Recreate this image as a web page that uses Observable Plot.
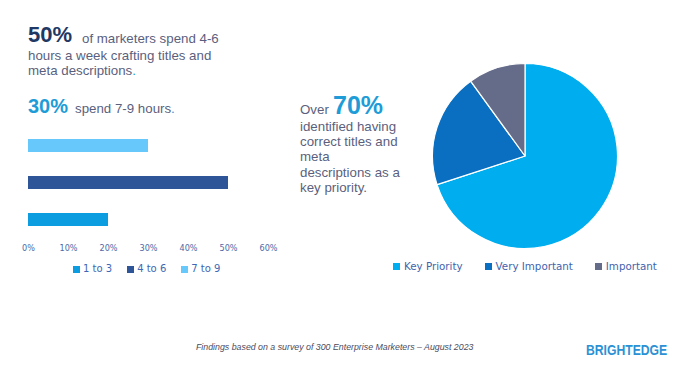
<!DOCTYPE html>
<html>
<head>
<meta charset="utf-8">
<script src="https://cdn.jsdelivr.net/npm/d3@7"></script>
<script src="https://cdn.jsdelivr.net/npm/@observablehq/plot@0.6"></script>
<style>
  html, body { margin: 0; padding: 0; background: #ffffff; }
  #page { position: relative; width: 700px; height: 367px; overflow: hidden; font-family: "Liberation Sans", Arial, sans-serif; }
  .abs { position: absolute; white-space: nowrap; line-height: 1; }
  .body { color: #5b5f7e; font-size: 13.3px; }
  .dot { color: #1e9cd7; }
  div .bl-swatch { margin-right: 15px !important; }
  div .bl-swatch > svg { margin-right: 3px !important; }
  div .pl-swatch { margin-right: 22px !important; }
  div .pl-swatch > svg { margin-right: 4px !important; }
</style>
</head>
<body>
<div id="page">
  <span class="abs" style="left:28px; top:24.4px; font-size:22px; font-weight:bold; color:#1f3864;">50%</span>
  <span class="abs body" style="left:82px; top:31.7px;">of marketers spend 4-6</span>
  <span class="abs body" style="left:28px; top:48.7px;">hours a week crafting titles and</span>
  <span class="abs body" style="left:28px; top:63.7px;">meta descriptions<span class="dot">.</span></span>
  <span class="abs" style="left:28px; top:96.1px; font-size:20px; font-weight:bold; color:#1e9cd7;">30%</span>
  <span class="abs body" style="left:75px; top:101.7px;">spend 7-9 hours<span class="dot">.</span></span>

  <span class="abs body" style="left:300px; top:102.7px;">Over</span>
  <span class="abs" style="left:333px; top:92.8px; font-size:25px; font-weight:bold; color:#1e9cd7;">70%</span>
  <div class="abs body" style="left:300px; top:118.8px; line-height:15.3px; white-space:normal; width:110px;">identified having<br>correct titles and<br>meta<br>descriptions as a<br>key priority.</div>

  <div id="bars" class="abs" style="left:0px; top:130px;"></div>
  <div id="barLegend" class="abs" style="left:73px; top:252.5px;"></div>
  <div id="pie" class="abs" style="left:430px; top:61px;"></div>
  <div id="pieLegend" class="abs" style="left:393px; top:250px;"></div>

  <span class="abs" style="left:196px; top:342.6px; font-size:8.8px; font-style:italic; color:#4a4c5e;">Findings based on a survey of 300 Enterprise Marketers – August 2023</span>
  <span class="abs" style="left:586px; top:343px; font-size:14px; font-weight:bold; color:#2b91d4; transform:scaleX(0.87); transform-origin:left center;">BRIGHTEDGE</span>
</div>
<script>
// ---- Data ----
const hourRanges = ["1 to 3", "4 to 6", "7 to 9"];
const hourShares = [0.20, 0.50, 0.30];
const hourColors = ["#0b9de0", "#2e5597", "#66c8fb"];
const xTicks = [0, 0.1, 0.2, 0.3, 0.4, 0.5, 0.6];

const priorityLabels = ["Key Priority", "Very Important", "Important"];
const priorityShares = [70, 20, 10];
const priorityColors = ["#00aeef", "#0a6fc0", "#646c8a"];

const barData = hourRanges.map((r, i) => ({range: r, value: hourShares[i]}));
const pieData = priorityLabels.map((l, i) => ({label: l, value: priorityShares[i]}));

// ---- Bar chart ----
const bars = Plot.plot({
  width: 300,
  height: 130,
  marginLeft: 28,
  marginRight: 32,
  marginTop: 0,
  marginBottom: 26,
  style: {fontFamily: "'DejaVu Sans Condensed', 'DejaVu Sans', sans-serif", fontSize: "9px", color: "#4a6aa8", background: "transparent"},
  x: {domain: [0, 0.6], axis: null},
  y: {domain: ["7 to 9", "4 to 6", "1 to 3"], paddingInner: 0.66, paddingOuter: 0.2, axis: null},
  color: {domain: hourRanges, range: hourColors},
  marks: [
    Plot.barX(barData, {x: "value", y: "range", fill: "range"}),
    Plot.axisX({ticks: xTicks, tickFormat: d3.format(".0%"), tickSize: 0, tickPadding: 10, anchor: "bottom", label: null})
  ]
});
document.getElementById("bars").appendChild(bars);

const barLegend = Plot.legend({
  color: {type: "ordinal", domain: hourRanges, range: hourColors},
  swatchSize: 7,
  className: "bl",
  style: {fontFamily: "DejaVu Sans, sans-serif", fontSize: "10px", color: "#3d68b5", margin: "0"}
});
document.getElementById("barLegend").appendChild(barLegend);

// ---- Pie chart ----
const pieRadius = 92.5;
const pie = Plot.plot({
  width: 190,
  height: 190,
  margin: 0,
  style: {background: "transparent"},
  x: {axis: null},
  y: {axis: null},
  color: {domain: priorityLabels, range: priorityColors},
  marks: [
    (index, scales, values, dims) => {
      const color = scales.color ?? (k => priorityColors[priorityLabels.indexOf(k)]);
      const cx = dims.width / 2, cy = dims.height / 2;
      const arcs = d3.pie().sort(null).value(d => d.value)(pieData);
      const arc = d3.arc().innerRadius(0).outerRadius(pieRadius);
      const g = d3.create("svg:g").attr("transform", `translate(${cx},${cy})`);
      g.selectAll("path").data(arcs).join("path")
        .attr("d", arc)
        .attr("fill", d => color(d.data.label))
        .attr("stroke", "#ffffff")
        .attr("stroke-width", 1.2)
        .attr("stroke-linejoin", "round");
      return g.node();
    }
  ]
});
document.getElementById("pie").appendChild(pie);

const pieLegend = Plot.legend({
  color: {type: "ordinal", domain: priorityLabels, range: priorityColors},
  swatchSize: 7,
  className: "pl",
  style: {fontFamily: "DejaVu Sans, sans-serif", fontSize: "10.3px", color: "#3f63ad", margin: "0"}
});
document.getElementById("pieLegend").appendChild(pieLegend);
</script>
</body>
</html>
